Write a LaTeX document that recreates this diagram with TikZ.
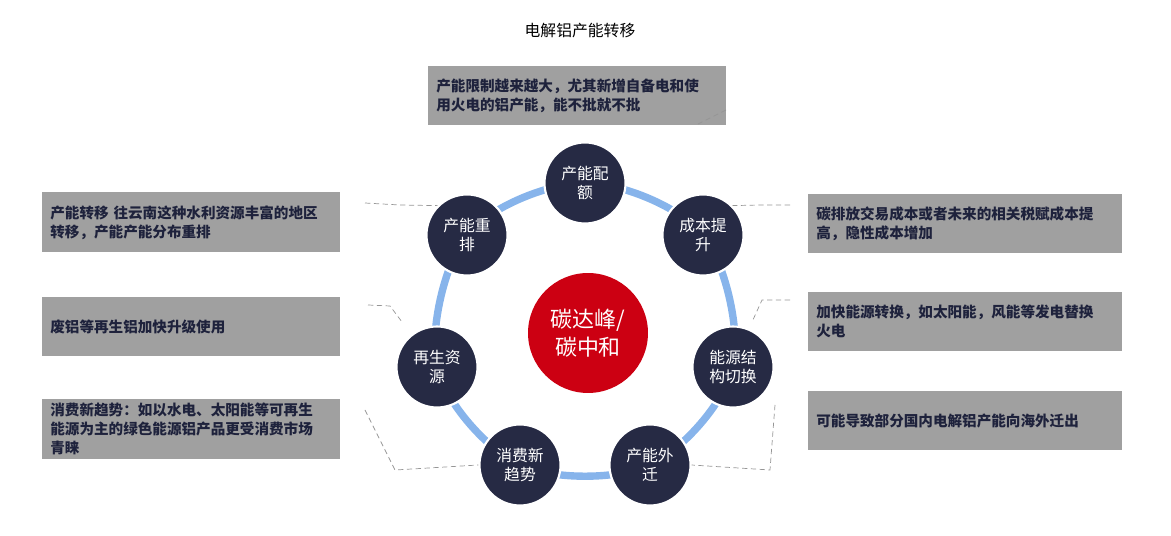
\documentclass[tikz,border=0pt]{standalone}
\usepackage{fontspec}
\setmainfont{Noto Sans CJK SC}
\definecolor{ringBlue}{RGB}{135,180,235}
\definecolor{nodeNavy}{RGB}{38,42,68}
\definecolor{hubRed}{RGB}{204,0,18}
\definecolor{noteGray}{RGB}{160,160,160}
\definecolor{noteText}{RGB}{30,34,60}
\definecolor{leadGray}{RGB}{150,150,150}

\begin{document}
\begin{tikzpicture}[x=0.02cm,y=-0.02cm]
\tikzstyle{every node}=[font=\fontsize{9}{11}\selectfont]
\tikzstyle{stage}=[circle,fill=nodeNavy,draw=white,line width=1.2pt,minimum size=1.62cm,inner sep=0pt,align=center,text=white]
\tikzstyle{note}=[fill=noteGray,anchor=north west,inner xsep=0.16cm,inner ysep=0pt,text=noteText,align=left,font=\fontsize{8.3}{10.8}\selectfont\bfseries]
\tikzstyle{lead}=[draw=leadGray,densely dashed,line width=0.4pt]
\useasboundingbox (0,0) rectangle (1171,536);

  \node (title) at (580,31) {电解铝产能转移};

  % ring through the stages
  \draw[ringBlue,line width=4.2pt] plot[smooth cycle,tension=0.55] coordinates
    {(585,183) (703,235) (733,367) (650,465) (520,465) (437,367) (467,235)};

  \node[circle,fill=hubRed,minimum size=2.4cm,text=white,align=center,
        font=\fontsize{12.5}{16}\selectfont] (hub) at (588,333) {碳达峰/\\碳中和};

  \node[stage] (quota) at (585,183) {产能配\\额};
  \node[stage] (cost) at (703,235) {成本提\\升};
  \node[stage] (energy) at (733,367) {能源结\\构切换};
  \node[stage] (move) at (650,465) {产能外\\迁};
  \node[stage] (trend) at (520,465) {消费新\\趋势};
  \node[stage] (recycle) at (437,367) {再生资\\源};
  \node[stage] (rearr) at (467,235) {产能重\\排};

  \node[note,text width=5.64cm,minimum height=1.18cm] (nQuota) at (428,66) {产能限制越来越大，尤其新增自备电和使\\用火电的铝产能，能不批就不批};
  \node[note,text width=5.64cm,minimum height=1.2cm] (nRearr) at (42,192) {产能转移 往云南这种水利资源丰富的地区\\转移，产能产能分布重排};
  \node[note,text width=5.64cm,minimum height=1.18cm] (nRecycle) at (42,297) {废铝等再生铝加快升级使用};
  \node[note,text width=5.64cm,minimum height=1.2cm] (nTrend) at (42,399) {消费新趋势：如以水电、太阳能等可再生\\能源为主的绿色能源铝产品更受消费市场\\青睐};
  \node[note,text width=5.96cm,minimum height=1.18cm] (nCost) at (808,194) {碳排放交易成本或者未来的相关税赋成本提\\高，隐性成本增加};
  \node[note,text width=5.96cm,minimum height=1.18cm] (nEnergy) at (808,292) {加快能源转换，如太阳能，风能等发电替换\\火电};
  \node[note,text width=5.96cm,minimum height=1.18cm] (nMove) at (808,391) {可能导致部分国内电解铝产能向海外迁出};

  \coordinate (c1) at (726,110);
  \coordinate (c2) at (365,203);
  \coordinate (c3) at (368,305);
  \coordinate (c4) at (365,410);
  \coordinate (c5) at (790,205);
  \coordinate (c6) at (790,300);
  \coordinate (c7) at (775,405);

  \draw[lead] (c1) -- (698,124);
  \draw[lead] (c2) -- (400,205) -- (rearr.north west);
  \draw[lead] (c3) -- (390,306) -- (402,322);
  \draw[lead] (c4) -- (395,470) -- (trend.west);
  \draw[lead] (c5) -- (760,205) -- (cost.north east);
  \draw[lead] (c6) -- (762,300) -- (752,322);
  \draw[lead] (c7) -- (770,470) -- (move.east);

\end{tikzpicture}
\end{document}
